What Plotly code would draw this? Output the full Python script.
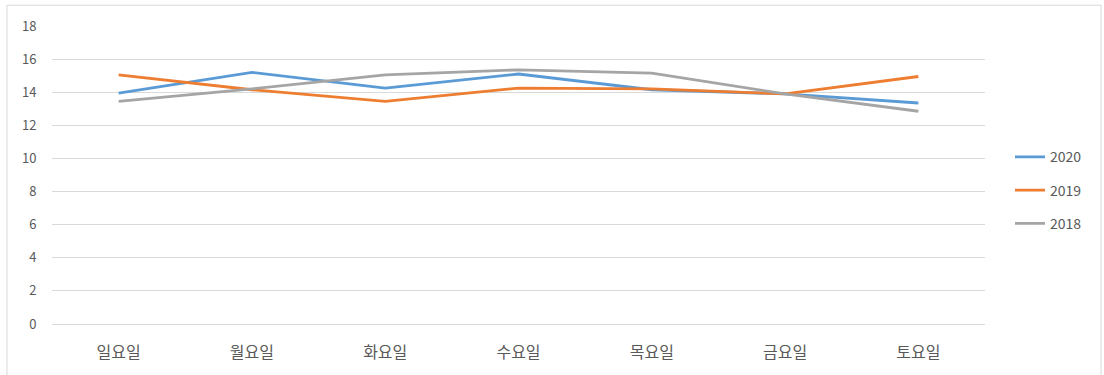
import plotly.graph_objects as go

days = ["일요일", "월요일", "화요일", "수요일", "목요일", "금요일", "토요일"]
v2020 = [13.95, 15.2, 14.25, 15.1, 14.15, 13.9, 13.35]
v2019 = [15.05, 14.15, 13.45, 14.25, 14.2, 13.9, 14.95]
v2018 = [13.45, 14.2, 15.05, 15.35, 15.15, 13.9, 12.85]
y_ticks = [0, 2, 4, 6, 8, 10, 12, 14, 16, 18]

W, H = 1104, 375
L, R, T, B = 52, 119, 26, 48
pw, ph = W - L - R, H - T - B

def px(x):
    return (x - L) / pw

def py(y):
    return (H - B - y) / ph

fig = go.Figure()
series = [("2020", v2020, "#5B9BD5"), ("2019", v2019, "#ED7D31"), ("2018", v2018, "#A5A5A5")]
for name, vals, col in series:
    fig.add_trace(go.Scatter(x=days, y=vals, mode="lines", name=name,
                             legendgroup=name,
                             line=dict(color=col, width=2.8)))

fam = "Noto Sans CJK KR, Malgun Gothic, sans-serif"
numfont = dict(family=fam, size=13, color="#595959")
catfont = dict(family=fam, size=16, color="#595959")
legfont = dict(family=fam, size=14, color="#595959")

fig.update_layout(
    width=W, height=H,
    margin=dict(l=L, r=R, t=T, b=B),
    paper_bgcolor="white", plot_bgcolor="white",
    font=numfont,
    showlegend=True,
    legend=dict(x=px(1010), xanchor="left", y=py(192), yanchor="middle",
                font=legfont, bgcolor="rgba(0,0,0,0)", tracegroupgap=12,
                traceorder="grouped", itemwidth=30),
    xaxis=dict(showgrid=False, showline=False, zeroline=False,
               ticks="outside", ticklen=14, tickcolor="rgba(0,0,0,0)",
               tickfont=catfont, range=[-0.5, 6.5], fixedrange=True),
    yaxis=dict(range=[0, 18], tickvals=y_ticks, showgrid=True, gridcolor="#d9d9d9",
               gridwidth=1, zeroline=True, zerolinecolor="#d9d9d9", zerolinewidth=1,
               showline=False, ticks="outside", ticklen=12, tickcolor="rgba(0,0,0,0)",
               tickfont=numfont, fixedrange=True),
    shapes=[dict(type="rect", xref="paper", yref="paper",
                 x0=px(7), x1=px(1101), y0=py(385), y1=py(5),
                 line=dict(color="#d9d9d9", width=1), fillcolor="rgba(0,0,0,0)",
                 layer="below")],
)

fig.write_html("out.html", config={"displayModeBar": False},
               post_script="document.body.style.margin='0';")
